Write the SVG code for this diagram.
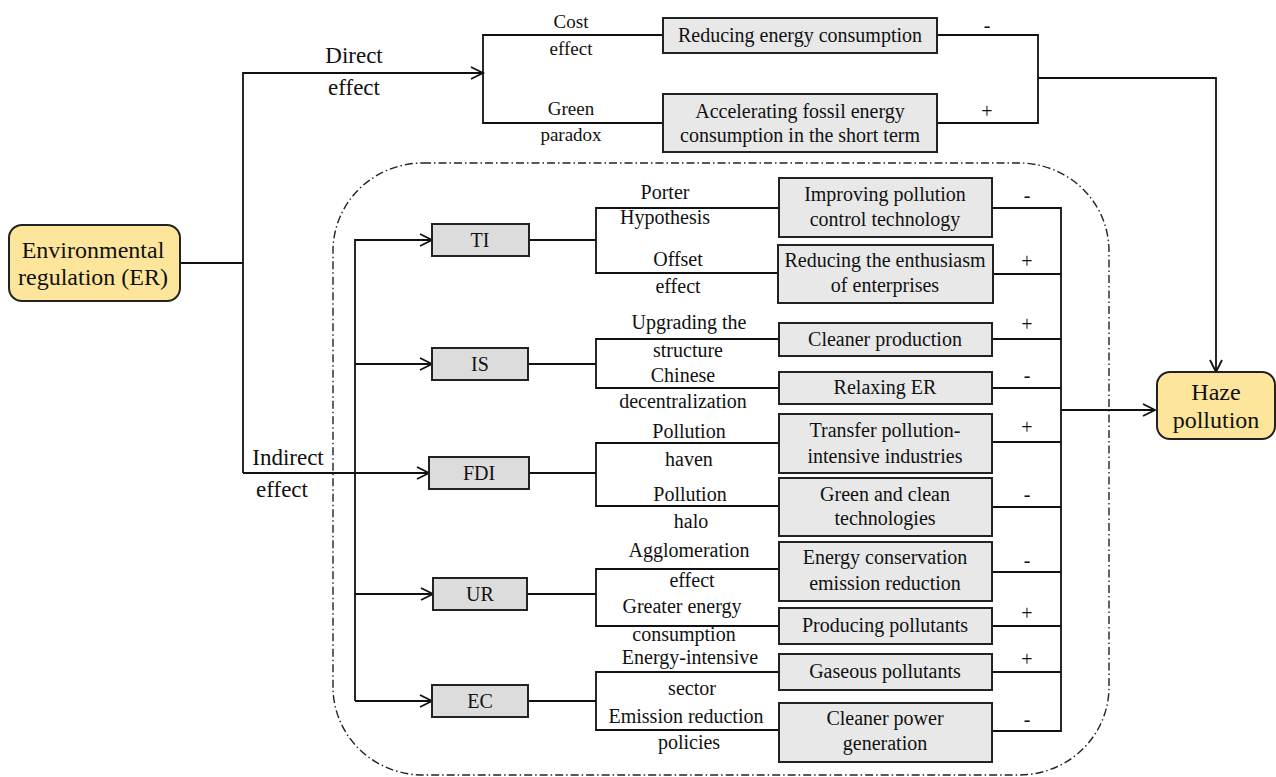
<svg xmlns="http://www.w3.org/2000/svg" width="1276" height="777" viewBox="0 0 1276 777">
<defs>
<marker id="arr" markerUnits="userSpaceOnUse" markerWidth="16" markerHeight="16" refX="13" refY="7" orient="auto">
<path d="M1,1 L13,7 L1,13" fill="none" stroke="#111" stroke-width="1.8"/>
</marker>
</defs>
<rect width="1276" height="777" fill="#fff"/>

<rect id="indirect-region" fill="none" stroke="#222" stroke-width="1.4" stroke-dasharray="8 3 1.5 3" x="333" y="163" width="776" height="612" rx="90" ry="88"/>

<g id="connectors" fill="none" stroke="#111" stroke-width="1.8">
<polyline points="180,263 243,263"/>
<polyline points="243,473 243,73 483,73" marker-end="url(#arr)"/>
<polyline points="243,473 429,473" marker-end="url(#arr)"/>
<polyline points="663,35 483,35 483,123 663,123"/>
<polyline points="937,35 1038,35 1038,123 937,123"/>
<polyline points="1038,78 1216,78 1216,372" marker-end="url(#arr)"/>
<polyline points="355,701 355,240 432,240" marker-end="url(#arr)"/>
<polyline points="355,364 432,364" marker-end="url(#arr)"/>
<polyline points="355,594 433,594" marker-end="url(#arr)"/>
<polyline points="355,701 432,701" marker-end="url(#arr)"/>
<polyline points="529,240 596,240"/>
<polyline points="779,208 596,208 596,273 779,273"/>
<polyline points="528,364 596,364"/>
<polyline points="779,339 596,339 596,388 779,388"/>
<polyline points="529,473 596,473"/>
<polyline points="779,443 596,443 596,506 779,506"/>
<polyline points="527,594 596,594"/>
<polyline points="779,569 596,569 596,626 779,626"/>
<polyline points="528,701 596,701"/>
<polyline points="779,672 596,672 596,730 779,730"/>
<polyline points="992,208 1061,208 1061,731 992,731"/>
<polyline points="992,274 1061,274"/>
<polyline points="992,339 1061,339"/>
<polyline points="992,388 1061,388"/>
<polyline points="992,442 1061,442"/>
<polyline points="992,507 1061,507"/>
<polyline points="992,572 1061,572"/>
<polyline points="992,626 1061,626"/>
<polyline points="992,672 1061,672"/>
<polyline points="1061,410 1155,410" marker-end="url(#arr)"/>
</g>

<g id="connector-labels" font-family="Liberation Serif" text-anchor="middle" fill="#111" font-size="20">
<text font-size="23" x="354" y="63">Direct</text>
<text font-size="23" x="354" y="95">effect</text>
<text font-size="23" x="288" y="465">Indirect</text>
<text font-size="23" x="282" y="497">effect</text>
<text font-size="19" x="571" y="28">Cost</text>
<text font-size="19" x="571" y="55">effect</text>
<text font-size="19" x="571" y="115">Green</text>
<text font-size="19" x="571" y="141">paradox</text>
<text x="987" y="32">-</text>
<text x="987" y="118">+</text>
<text x="665" y="199">Porter</text>
<text x="665" y="224">Hypothesis</text>
<text x="678" y="266">Offset</text>
<text x="678" y="293">effect</text>
<text x="689" y="329">Upgrading the</text>
<text x="688" y="357">structure</text>
<text x="683" y="382">Chinese</text>
<text x="683" y="408">decentralization</text>
<text x="689" y="438">Pollution</text>
<text x="689" y="466">haven</text>
<text x="690" y="501">Pollution</text>
<text x="691" y="528">halo</text>
<text x="689" y="557">Agglomeration</text>
<text x="692" y="587">effect</text>
<text x="682" y="613">Greater energy</text>
<text x="684" y="641">consumption</text>
<text x="690" y="664">Energy-intensive</text>
<text x="692" y="695">sector</text>
<text x="686" y="723">Emission reduction</text>
<text x="689" y="749">policies</text>
<text x="1027" y="202">-</text>
<text x="1027" y="268">+</text>
<text x="1027" y="331">+</text>
<text x="1027" y="382">-</text>
<text x="1027" y="434">+</text>
<text x="1027" y="501">-</text>
<text x="1027" y="567">-</text>
<text x="1027" y="620">+</text>
<text x="1027" y="666">+</text>
<text x="1027" y="726">-</text>
</g>

<g id="main-nodes" font-family="Liberation Serif" text-anchor="middle" font-size="24" stroke-width="2">
<g id="er">
<rect fill="#fde59b" stroke="#222" x="9" y="225" width="171" height="76" rx="13"/>
<text fill="#111" x="93" y="258">Environmental</text>
<text fill="#111" x="93" y="285">regulation (ER)</text>
</g>
<g id="haze">
<rect fill="#fde59b" stroke="#222" x="1157" y="372" width="118" height="67" rx="13"/>
<text fill="#111" x="1216" y="400">Haze</text>
<text fill="#111" x="1216" y="428">pollution</text>
</g>
</g>

<g id="mediators" font-family="Liberation Serif" text-anchor="middle" font-size="20" stroke-width="2">
<g id="ti"><rect fill="#dcdcdc" stroke="#222" x="432" y="224" width="97" height="32"/><text fill="#111" x="480" y="247">TI</text></g>
<g id="is"><rect fill="#dcdcdc" stroke="#222" x="432" y="348" width="96" height="32"/><text fill="#111" x="480" y="371">IS</text></g>
<g id="fdi"><rect fill="#dcdcdc" stroke="#222" x="429" y="457" width="100" height="32"/><text fill="#111" x="479" y="480">FDI</text></g>
<g id="ur"><rect fill="#dcdcdc" stroke="#222" x="433" y="578" width="94" height="32"/><text fill="#111" x="480" y="601">UR</text></g>
<g id="ec"><rect fill="#dcdcdc" stroke="#222" x="432" y="685" width="96" height="32"/><text fill="#111" x="480" y="708">EC</text></g>
</g>

<g id="effects" font-family="Liberation Serif" text-anchor="middle" font-size="20" stroke-width="2">
<g id="reducing-energy"><rect fill="#e8e8e8" stroke="#222" x="663" y="18" width="274" height="35"/><text fill="#111" x="800" y="42">Reducing energy consumption</text></g>
<g id="accelerating"><rect fill="#e8e8e8" stroke="#222" x="663" y="94" width="274" height="58"/><text fill="#111" x="800" y="118">Accelerating fossil energy</text><text fill="#111" x="800" y="142">consumption in the short term</text></g>
<g id="improving"><rect fill="#e8e8e8" stroke="#222" x="779" y="178" width="213" height="59"/><text fill="#111" x="885" y="201">Improving pollution</text><text fill="#111" x="885" y="226">control technology</text></g>
<g id="enthusiasm"><rect fill="#e8e8e8" stroke="#222" x="778" y="245" width="215" height="58"/><text fill="#111" x="885" y="267">Reducing the enthusiasm</text><text fill="#111" x="885" y="292">of enterprises</text></g>
<g id="cleaner-production"><rect fill="#e8e8e8" stroke="#222" x="779" y="323" width="213" height="33"/><text fill="#111" x="885" y="346">Cleaner production</text></g>
<g id="relaxing-er"><rect fill="#e8e8e8" stroke="#222" x="779" y="372" width="213" height="32"/><text fill="#111" x="885" y="394">Relaxing ER</text></g>
<g id="transfer"><rect fill="#e8e8e8" stroke="#222" x="779" y="414" width="213" height="59"/><text fill="#111" x="885" y="437">Transfer pollution-</text><text fill="#111" x="885" y="463">intensive industries</text></g>
<g id="green-clean"><rect fill="#e8e8e8" stroke="#222" x="779" y="478" width="213" height="58"/><text fill="#111" x="885" y="501">Green and clean</text><text fill="#111" x="885" y="525">technologies</text></g>
<g id="energy-conservation"><rect fill="#e8e8e8" stroke="#222" x="779" y="542" width="213" height="59"/><text fill="#111" x="885" y="564">Energy conservation</text><text fill="#111" x="885" y="590">emission reduction</text></g>
<g id="producing"><rect fill="#e8e8e8" stroke="#222" x="779" y="608" width="213" height="36"/><text fill="#111" x="885" y="632">Producing pollutants</text></g>
<g id="gaseous"><rect fill="#e8e8e8" stroke="#222" x="779" y="654" width="213" height="36"/><text fill="#111" x="885" y="678">Gaseous pollutants</text></g>
<g id="cleaner-power"><rect fill="#e8e8e8" stroke="#222" x="779" y="703" width="213" height="59"/><text fill="#111" x="885" y="725">Cleaner power</text><text fill="#111" x="885" y="750">generation</text></g>
</g>
</svg>
